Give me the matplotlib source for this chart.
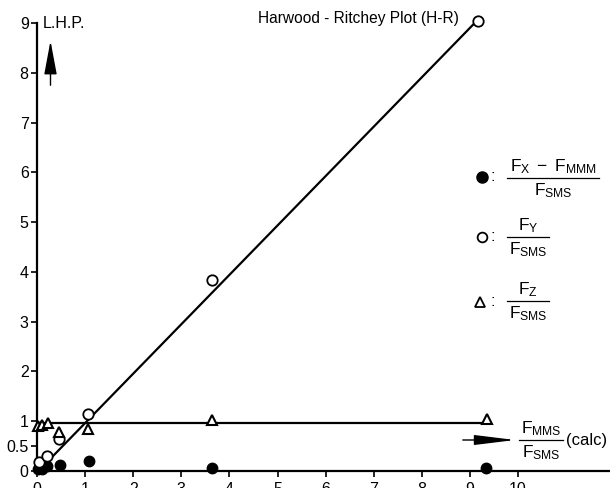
import matplotlib
matplotlib.use("Agg")
import matplotlib.pyplot as plt
from matplotlib.lines import Line2D

plt.rcParams["font.family"] = ["Liberation Sans", "DejaVu Sans"]
plt.rcParams["mathtext.fontset"] = "custom"
plt.rcParams["mathtext.rm"] = "Liberation Sans"
plt.rcParams["mathtext.it"] = "Liberation Sans"
plt.rcParams["mathtext.bf"] = "Liberation Sans:bold"

# (F_X - F_MMM) / F_SMS  -> filled dots
dot_x = [0.03, 0.10, 0.20, 0.48, 1.08, 3.64, 9.33]
dot_y = [0.05, 0.04, 0.10, 0.13, 0.20, 0.07, 0.07]

# F_Y / F_SMS  -> open circles
circ_x = [0.05, 0.20, 0.46, 1.07, 3.64, 9.17]
circ_y = [0.18, 0.30, 0.64, 1.15, 3.84, 9.05]

# F_Z / F_SMS  -> open triangles
tri_x = [0.03, 0.10, 0.23, 0.46, 1.07, 3.64, 9.35]
tri_y = [0.90, 0.93, 0.97, 0.79, 0.84, 1.02, 1.04]

# fitted lines
diag_x = [0.08, 9.12]
diag_y = [0.05, 9.02]
flat_x = [0.0, 9.35]
flat_y = [0.96, 0.96]

y_ticks = [0, 0.5, 1, 2, 3, 4, 5, 6, 7, 8, 9]
y_labels = ["0", "0.5", "1", "2", "3", "4", "5", "6", "7", "8", "9"]
x_ticks = list(range(0, 11))

W, H = 610, 488
fig = plt.figure(figsize=(W / 100, H / 100), dpi=100)
ax = fig.add_axes([37 / W, (H - 471) / H, (W - 37) / W, (471 - 23) / H])

ax.plot(diag_x, diag_y, color="black", lw=1.6, zorder=2)
ax.plot(flat_x, flat_y, color="black", lw=1.6, zorder=2)

ax.plot(dot_x, dot_y, "o", ms=7.5, mfc="black", mec="black", clip_on=False, zorder=3)
ax.plot(circ_x, circ_y, "o", ms=7.5, mfc="white", mec="black", mew=1.3,
        clip_on=False, zorder=4)
ax.plot(tri_x, tri_y, "^", ms=7, mfc="white", mec="black", mew=1.5,
        clip_on=False, zorder=4)

ax.set_xlim(0, (W - 37) / 48.1)
ax.set_ylim(0, 9)
ax.set_xticks(x_ticks)
ax.set_yticks(y_ticks)
ax.set_yticklabels(y_labels)
ax.tick_params(labelsize=11.5, length=4, width=1.2, pad=2)
ax.tick_params(axis="x", pad=4)
for s in ["top", "right"]:
    ax.spines[s].set_visible(False)
for s in ["left", "bottom"]:
    ax.spines[s].set_linewidth(1.6)


def px(x, y):
    return x / W, 1 - y / H


def frac(x0, x1, ybar, num, den):
    fig.add_artist(Line2D([x0 / W, x1 / W], [1 - ybar / H, 1 - ybar / H],
                          color="black", lw=0.9))
    xc = (x0 + x1) / 2
    fig.text(*px(xc, ybar - 2), num, ha="center", va="bottom", fontsize=12.5)
    fig.text(*px(xc, ybar + 3), den, ha="center", va="top", fontsize=12.5)


# title and axis label
fig.text(*px(258, 18), "Harwood - Ritchey Plot (H-R)", ha="left", va="center",
         fontsize=11.2)
fig.text(*px(43, 24), "L.H.P.", ha="left", va="center", fontsize=11.5)
ax.annotate("", xy=px(50.5, 38), xytext=px(50.5, 88), xycoords="figure fraction",
            textcoords="figure fraction",
            arrowprops=dict(arrowstyle="-|>,head_length=1.5,head_width=0.28",
                            color="black", lw=1, mutation_scale=14))

# legend
fig.add_artist(Line2D([482 / W], [1 - 177 / H], marker="o", ms=8, mfc="black",
                      mec="black"))
fig.text(*px(491, 177), ":", ha="left", va="center", fontsize=12)
frac(507, 599, 178, r"$F_X\ -\ F_{MMM}$", r"$F_{SMS}$")

fig.add_artist(Line2D([482 / W], [1 - 237 / H], marker="o", ms=7, mfc="white",
                      mec="black", mew=1.3))
fig.text(*px(491, 237), ":", ha="left", va="center", fontsize=12)
frac(507, 549, 237, r"$F_Y$", r"$F_{SMS}$")

fig.add_artist(Line2D([480 / W], [1 - 302 / H], marker="^", ms=6.5, mfc="white",
                      mec="black", mew=1.3))
fig.text(*px(491, 302), ":", ha="left", va="center", fontsize=12)
frac(507, 549, 301, r"$F_Z$", r"$F_{SMS}$")

# x-axis quantity
ax.annotate("", xy=px(518, 440), xytext=px(460, 440), xycoords="figure fraction",
            textcoords="figure fraction",
            arrowprops=dict(arrowstyle="-|>,head_length=1.8,head_width=0.22",
                            color="black", lw=1, mutation_scale=14))
frac(519, 563, 440, r"$F_{MMS}$", r"$F_{SMS}$")
fig.text(*px(566, 441), "(calc)", ha="left", va="center", fontsize=12)

fig.savefig("out.png", dpi=100)
